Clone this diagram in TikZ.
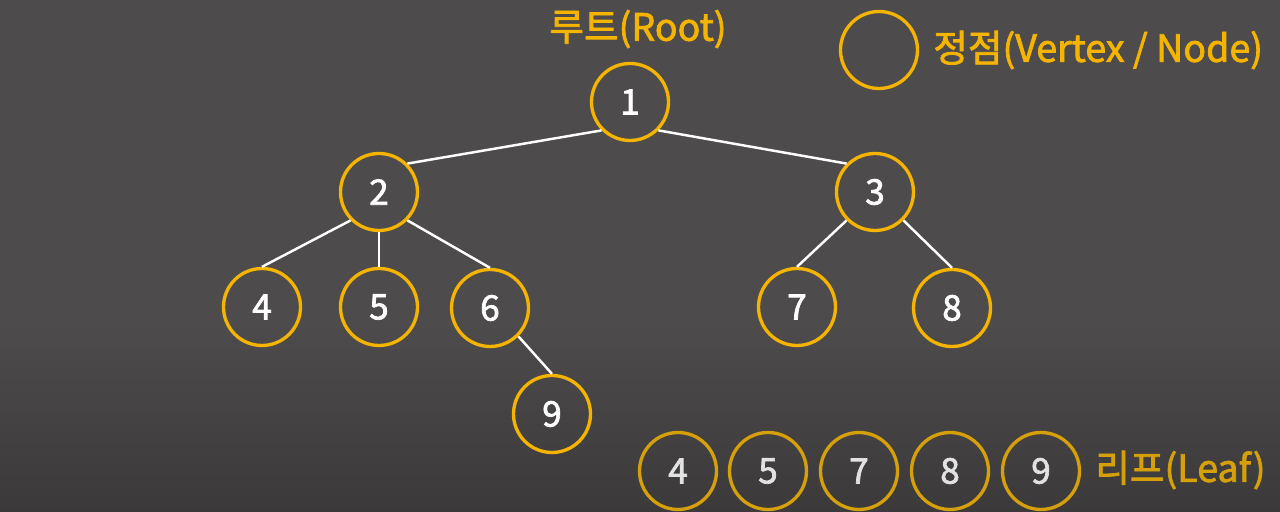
\documentclass[tikz,border=0pt]{standalone}
\usepackage{fontspec}
\setmainfont{Noto Sans CJK KR}
\newfontfamily\heavyfont{Noto Sans CJK KR}[FakeBold=2]
\definecolor{bgtop}{HTML}{4D4B4C}
\definecolor{bgbot}{HTML}{3B393A}
\definecolor{amber}{HTML}{F5B400}
\definecolor{amberdim}{HTML}{D6A00A}
\definecolor{chalk}{HTML}{E2E2E2}

\begin{document}
\begin{tikzpicture}[x=.2mm,y=.2mm,
    vertex/.style={circle,draw=amber,line width=1.9pt,minimum size=1.54cm,inner sep=0pt,
      text=white,font=\heavyfont\fontsize{20}{20}\selectfont},
    leafvertex/.style={vertex,draw=amberdim,text=chalk},
    label/.style={inner sep=0pt,font=\heavyfont\fontsize{21.4}{21.4}\selectfont},
    edge/.style={white,line width=1.4pt}]
  % background
  \fill[bgtop] (0,0) rectangle (1280,512);
  \shade[top color=bgtop,bottom color=bgbot] (0,0) rectangle (1280,190);
  \useasboundingbox (0,0) rectangle (1280,512);

  % tree
  \node[vertex] (n1) at (630,410) {1};
  \node[vertex] (n2) at (379,320) {2};
  \node[vertex] (n3) at (875,320) {3};
  \node[vertex] (n4) at (262,205) {4};
  \node[vertex] (n5) at (379,205) {5};
  \node[vertex] (n6) at (490,204) {6};
  \node[vertex] (n7) at (797,205) {7};
  \node[vertex] (n8) at (952,204) {8};
  \node[vertex] (n9) at (552,98) {9};
  \draw[edge] (n1.south west) -- (n2.north east);
  \draw[edge] (n1.south east) -- (n3.north west);
  \draw[edge] (n2.south west) -- (n4.north);
  \draw[edge] (n2.south) -- (n5.north);
  \draw[edge] (n2.south east) -- (n6.north);
  \draw[edge] (n6.south east) -- (n9.north);
  \draw[edge] (n3.south west) -- (n7.north);
  \draw[edge] (n3.south east) -- (n8.north);
  \node[label,text=amber] (root) at (638,483) {루트(Root)};

  % legend
  \node[vertex] (key) at (879,462) {};
  \node[label,text=amber,anchor=west] (keytext) at (933,462) {정점(Vertex / Node)};

  % leaves
  \node[leafvertex] (l4) at (678,41) {4};
  \node[leafvertex] (l5) at (768,41) {5};
  \node[leafvertex] (l7) at (859,41) {7};
  \node[leafvertex] (l8) at (950,41) {8};
  \node[leafvertex] (l9) at (1041,41) {9};
  \node[label,text=amberdim,anchor=west] (leaftext) at (1095,42) {리프(Leaf)};
\end{tikzpicture}
\end{document}
